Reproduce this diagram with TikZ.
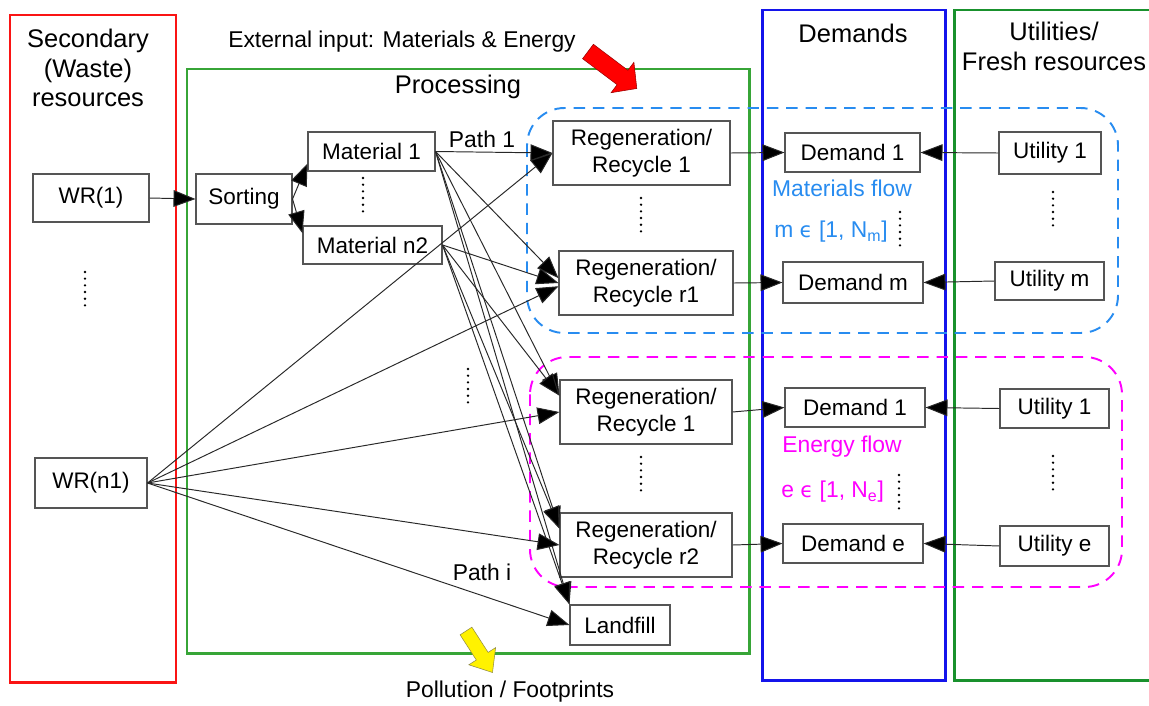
\documentclass[tikz,border=0pt]{standalone}
\usepackage{fontspec}
\setmainfont{Liberation Sans}
\newfontfamily\symfont{DejaVu Sans}
\usetikzlibrary{arrows.meta,calc}

\definecolor{wasteRed}{RGB}{250,20,20}
\definecolor{procGreen}{RGB}{55,165,55}
\definecolor{demBlue}{RGB}{20,20,235}
\definecolor{utilGreen}{RGB}{25,145,45}
\definecolor{matBlue}{RGB}{40,140,240}
\definecolor{enMag}{RGB}{255,0,255}
\definecolor{boxGray}{RGB}{85,85,85}
\definecolor{lineGray}{RGB}{40,40,40}

\newcommand\pxu{0.02cm}
\newcommand\headfont{\fontsize{14.5}{16.7}\selectfont}
\newcommand\boxfont{\fontsize{12.8}{15.3}\selectfont}
\newcommand\lblfont{\fontsize{13}{15}\selectfont}
\newcommand\elem{{\symfont\fontsize{12}{14}\selectfont ϵ}}

\begin{document}
\begin{tikzpicture}[x=0.02cm,y=-0.02cm,
  box/.style={draw=boxGray, line width=0.6pt, inner sep=0pt, font=\boxfont, align=center},
  container/.style={line width=1.7pt},
  flowzone/.style={line width=1.1pt, dash pattern=on 6.5pt off 4.5pt, rounded corners=0.75cm},
  arr/.style={draw=lineGray, line width=0.55pt, -{Triangle[length=12.5pt,width=9.5pt,fill=black]}},
  dotcol/.style={line width=1.5pt, line cap=round, dash pattern=on 0pt off 3.8pt},
  heading/.style={font=\headfont, align=center, inner sep=0pt},
  lbl/.style={font=\lblfont, inner sep=0pt}
]
\clip (0,0) rectangle (1149,706);
\fill[white] (0,0) rectangle (1149,706);

% ---------- column frames ----------
\draw[container, wasteRed]  (10,15)  rectangle (176,682);
\draw[container, procGreen] (187,69) rectangle (749,653);
\draw[container, demBlue]   (762,10) rectangle (945,680);
\draw[container, utilGreen] (954,10) rectangle (1170,680);

% ---------- flow zones ----------
\draw[flowzone, matBlue] (527,108) rectangle (1118,333);
\draw[flowzone, enMag]   (530,357) rectangle (1122,587);

% ---------- headings ----------
\node[heading] (hsec)  at (88,68)    {Secondary\\(Waste)\\resources};
\node[heading] (hproc) at (458,87)   {Processing};
\node[heading] (hdem)  at (853,33)   {Demands};
\node[heading] (hutil) at (1054,46.5) {Utilities/\\Fresh resources};
\node[lbl]     (hext)  at (402,42)   {External input: Materials \& Energy};
\node[lbl]     (hpol)  at (510,692)  {Pollution / Footprints};

% ---------- input / output block arrows ----------
\fill[red, draw=red!60!black, line width=0.3pt]
  (593.4,44.3) -- (627.9,70.3) -- (633.9,62.3) -- (636.8,88.5)
  -- (611.1,92.7) -- (617.1,84.7) -- (582.6,58.7) -- cycle;
\fill[yellow, draw=yellow!50!black, line width=0.3pt]
  (471.9,627.2) -- (488.1,652.4) -- (495.6,647.6) -- (492.5,672.5)
  -- (468.8,664.8) -- (476.3,660.0) -- (460.1,634.8) -- cycle;

% ---------- waste resources ----------
\node[box, minimum width=116*\pxu, minimum height=48*\pxu] (wr1)  at (91,198) {WR(1)};
\node[box, minimum width=112*\pxu, minimum height=50*\pxu] (wrn1) at (91,483) {WR(n1)};
\draw[dotcol] (85,272) -- (85,312);

% ---------- processing ----------
\node[box, minimum width=96*\pxu,  minimum height=50*\pxu] (sort) at (244,199)   {Sorting};
\node[box, minimum width=127*\pxu, minimum height=39*\pxu] (m1)   at (371.5,151.5) {Material 1};
\node[box, minimum width=139*\pxu, minimum height=38*\pxu] (mn2)  at (372.5,245) {Material n2};
\draw[dotcol] (363,178) -- (363,215);

\node[box, minimum width=177*\pxu, minimum height=64*\pxu] (rg1)  at (641.5,153) {Regeneration/\\Recycle 1};
\node[box, minimum width=174*\pxu, minimum height=64*\pxu] (rgr1) at (646,283)   {Regeneration/\\Recycle r1};
\node[box, minimum width=172*\pxu, minimum height=64*\pxu] (rge1) at (646,412)   {Regeneration/\\Recycle 1};
\node[box, minimum width=172*\pxu, minimum height=64*\pxu] (rgr2) at (646,545)   {Regeneration/\\Recycle r2};
\node[box, minimum width=100*\pxu, minimum height=40*\pxu] (lf)   at (620,625)   {Landfill};
\draw[dotcol] (641,198) -- (641,238);
\draw[dotcol] (641,457) -- (641,495);
\draw[dotcol] (468,369) -- (468,407);

\node[lbl] (path1) at (482,139) {Path 1};
\node[lbl] (pathi) at (482,572) {Path i};

% ---------- demands ----------
\node[box, minimum width=135*\pxu, minimum height=39*\pxu] (dm1) at (852.5,152.5) {Demand 1};
\node[box, minimum width=140*\pxu, minimum height=41*\pxu] (dmm) at (853,282.5)   {Demand m};
\node[box, minimum width=140*\pxu, minimum height=39*\pxu] (de1) at (855,407.5)   {Demand 1};
\node[box, minimum width=140*\pxu, minimum height=39*\pxu] (dee) at (853,543.5)   {Demand e};
\draw[dotcol] (900,212) -- (900,250);
\draw[dotcol] (899,475) -- (899,512);

\node[lbl, text=matBlue] (mflow) at (842,188) {Materials flow};
\node[lbl, text=matBlue, anchor=west] (mrange) at (774,232) {m \elem{} [1, N\textsubscript{m}]};
\node[lbl, text=enMag] (eflow) at (842,447) {Energy flow};
\node[lbl, text=enMag, anchor=west] (erange) at (781,492) {e \elem{} [1, N\textsubscript{e}]};

% ---------- utilities ----------
\node[box, minimum width=102*\pxu, minimum height=42*\pxu] (u1)  at (1050,153)    {Utility 1};
\node[box, minimum width=109*\pxu, minimum height=38*\pxu] (um)  at (1049.5,281)  {Utility m};
\node[box, minimum width=109*\pxu, minimum height=39*\pxu] (ue1) at (1054.5,408.5) {Utility 1};
\node[box, minimum width=109*\pxu, minimum height=40*\pxu] (uee) at (1054.5,546)  {Utility e};
\draw[dotcol] (1053,192) -- (1053,228);
\draw[dotcol] (1053,456) -- (1053,493);

% ---------- connectors ----------
\draw[arr] (wr1.east) -- (sort.west);
\draw[arr] (sort.east) -- ($(m1.west)!0.6!(m1.south west)$);
\draw[arr] (sort.east) -- ($(mn2.west)!0.6!(mn2.north west)$);

% material 1
\draw[arr] (m1.east) -- (rg1.west);
\draw[arr] (m1.east) -- ($(rgr1.west)!0.15!(rgr1.north west)$);
\draw[arr] (m1.east) -- ($(rge1.west)!0.5!(rge1.north west)$);
\draw[arr] (m1.east) -- ($(rgr2.west)!0.5!(rgr2.north west)$);
\draw[arr] (m1.east) -- (lf.north west);

% material n2
\draw[arr] (mn2.east) -- (rgr1.west);
\draw[arr] (mn2.east) -- ($(rge1.west)!0.5!(rge1.north west)$);
\draw[arr] (mn2.east) -- ($(rgr2.west)!0.5!(rgr2.north west)$);
\draw[arr] (mn2.east) -- (lf.north west);

% direct routes from WR(n1)
\draw[arr] (wrn1.east) -- (rg1.west);
\draw[arr] (wrn1.east) -- ($(rgr1.west)!0.1!(rgr1.south west)$);
\draw[arr] (wrn1.east) -- (rge1.west);
\draw[arr] (wrn1.east) -- (rgr2.west);
\draw[arr] (wrn1.east) -- (lf.west);

% regeneration to demands
\draw[arr] (rg1.east)  -- (dm1.west);
\draw[arr] (rgr1.east) -- (dmm.west);
\draw[arr] (rge1.east) -- (de1.west);
\draw[arr] (rgr2.east) -- (dee.west);

% utilities to demands
\draw[arr] (u1.west)  -- (dm1.east);
\draw[arr] (um.west)  -- (dmm.east);
\draw[arr] (ue1.west) -- (de1.east);
\draw[arr] (uee.west) -- (dee.east);
\end{tikzpicture}
\end{document}
